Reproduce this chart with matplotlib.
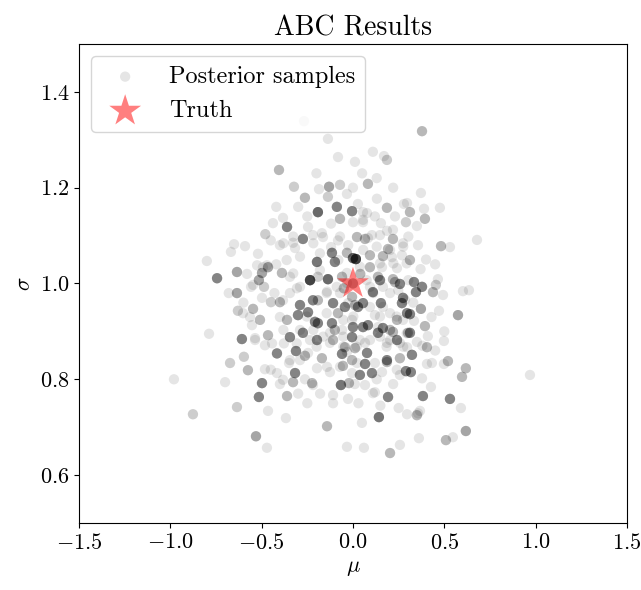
import numpy as np
import matplotlib
matplotlib.use('Agg')
import matplotlib.pyplot as plt

# 后验样本 (mu, sigma) 以及每个样本重复的次数 (ABC 结果中有重复样本)
mu = [
    -0.98, -0.876, -0.673, -0.70, -0.575, -0.498, -0.515, -0.635, -0.465, -0.531,
    -0.471, -0.597, -0.482, -0.80, -0.744, -0.651, -0.591, -0.668, -0.635, -0.68,
    -0.635, -0.63, -0.547, -0.788, -0.608, -0.52, -0.48, -0.525, -0.465, -0.498,
    -0.515, -0.558, -0.487, -0.498, -0.449, -0.564, -0.509, -0.553, -0.465, -0.536,
    -0.268, -0.137, -0.082, 0.011, 0.109, 0.186, 0.082, -0.323, -0.131, -0.071,
    -0.263, -0.186, -0.137, -0.033, -0.088, -0.192, -0.005, 0.027, 0.077, 0.131,
    0.186, 0.279, -0.071, 0.055, 0.153, 0.29, -0.383, -0.361, 0.378, 0.372,
    0.476, 0.389, 0.394, 0.312, 0.356, 0.482, 0.531, 0.679, 0.312, 0.334,
    0.378, 0.345, 0.465, 0.454, 0.438, 0.493, 0.602, 0.635, 0.372, 0.471,
    0.575, 0.312, 0.334, 0.394, 0.41, 0.312, 0.35, 0.498, 0.405, 0.969,
    0.323, 0.405, 0.432, 0.498, 0.52, 0.618, 0.597, 0.378, 0.427, 0.317,
    0.383, 0.531, 0.591, 0.367, 0.35, 0.618, 0.547, 0.509, 0.361, -0.367,
    -0.142, 0.049, 0.142, -0.033, 0.06, 0.203, 0.257, 0.296, -0.361, -0.109,
    -0.109, -0.027, 0.192, -0.066, -0.224, -0.328, -0.317, -0.383, -0.263, -0.35,
    -0.022, 0.038, 0.104, 0.066, 0.109, 0.159, 0.186, 0.29, 0.257, -0.312,
    -0.263, -0.17, -0.055, 0.022, 0.077, -0.197, -0.06, -0.405, -0.438, -0.274,
    -0.219, -0.17, -0.246, -0.328, -0.40, -0.12, -0.082, -0.033, -0.197, -0.115,
    -0.099, 0.0, -0.235, -0.137, -0.192, -0.29, -0.345, -0.389, -0.471, -0.547,
    -0.40, -0.29, -0.301, -0.361, -0.246, -0.208, -0.192, -0.115, -0.109, -0.082,
    -0.005, -0.192, -0.142, -0.602, -0.536, -0.482, -0.416, -0.443, -0.378, -0.274,
    -0.197, -0.246, -0.109, -0.044, -0.005, -0.219, -0.345, -0.416, -0.033, -0.033,
    -0.027, -0.005, -0.005, -0.06, -0.126, -0.033, -0.071, -0.005, -0.142, -0.493,
    0.17, 0.296, 0.055, 0.055, 0.0, 0.219, 0.186, 0.219, 0.022, 0.066,
    0.104, 0.274, 0.016, 0.192, 0.093, 0.164, 0.213, 0.268, 0.093, 0.159,
    0.241, 0.137, 0.219, 0.257, 0.093, 0.109, 0.164, 0.055, 0.153, 0.011,
    0.268, 0.274, 0.296, 0.203, 0.12, 0.241, 0.082, 0.0, 0.164, 0.219,
    0.301, 0.137, 0.241, 0.066, 0.186, 0.296, 0.011, 0.257, 0.186, 0.12,
    0.066, 0.12, 0.356, -0.164, 0.082, 0.148, -0.317, 0.148, 0.23, -0.307,
    -0.383, -0.219, -0.044, 0.027, 0.093, 0.164, -0.099, 0.055, 0.137, 0.203,
    0.274, -0.345, -0.235, -0.126, 0.093, 0.257, 0.0, 0.04, -0.05, -0.06,
    # 中心区域的浅色样本
    -0.381, -0.327, -0.217, -0.071, -0.026, 0.056, 0.130, 0.203, 0.275, 0.303,
    -0.363, -0.290, -0.181, -0.080, 0.038, 0.148, 0.221, 0.294, -0.327, -0.181,
    -0.089, 0.075, 0.248, 0.303, -0.345, -0.144, -0.071, 0.111, 0.203, 0.285,
    -0.253, -0.144, -0.053, 0.002, 0.148, 0.239, -0.381, -0.290, -0.217, -0.163,
    -0.053, 0.038, 0.148, 0.203, 0.294, -0.308, -0.199, -0.053, 0.020, 0.184,
    0.275, -0.29, -0.126, 0.01, 0.13, 0.22, 0.24, -0.18, -0.25, 0.03,
    0.15, 0.25, -0.40, -0.30, -0.25, -0.12, 0.12, 0.23, -0.30, 0.0,
    0.22, -0.20, 0.05, 0.13, -0.42, -0.45, 0.35, 0.40, 0.45, 0.38,
    0.43, 0.37, -0.40, -0.43, -0.42, -0.58, -0.60, -0.45, 0.33, 0.50,
    0.45,
]
sigma = [
    0.80, 0.727, 0.834, 0.794, 0.819, 0.792, 0.763, 0.742, 0.734, 0.681,
    0.657, 0.847, 0.821, 1.047, 1.011, 1.082, 1.078, 1.066, 1.024, 0.98,
    0.98, 0.943, 0.947, 0.895, 0.884, 1.062, 1.103, 1.038, 1.034, 1.022,
    1.007, 0.993, 0.993, 0.97, 0.961, 0.93, 0.924, 0.913, 0.892, 0.886,
    1.339, 1.302, 1.264, 1.254, 1.275, 1.258, 1.208, 1.202, 1.202, 1.206,
    1.179, 1.197, 1.181, 1.187, 1.16, 1.149, 1.151, 1.166, 1.147, 1.177,
    1.158, 1.166, 1.135, 1.133, 1.126, 1.128, 1.137, 1.118, 1.318, 1.189,
    1.158, 1.156, 1.135, 1.149, 1.08, 1.078, 1.076, 1.091, 1.049, 1.003,
    0.993, 0.982, 1.009, 0.997, 0.982, 0.976, 0.984, 0.986, 0.947, 0.943,
    0.934, 0.936, 0.922, 0.911, 0.89, 0.897, 0.878, 0.88, 0.867, 0.809,
    0.851, 0.832, 0.834, 0.832, 0.838, 0.823, 0.805, 0.802, 0.784, 0.815,
    0.765, 0.759, 0.74, 0.734, 0.725, 0.692, 0.679, 0.673, 0.677, 0.719,
    0.702, 0.709, 0.721, 0.659, 0.657, 0.646, 0.663, 0.727, 0.765, 0.767,
    0.75, 0.759, 0.763, 0.788, 0.792, 0.794, 0.813, 0.799, 0.80, 0.834,
    0.792, 0.809, 0.813, 0.788, 0.771, 0.815, 0.836, 0.817, 0.809, 0.859,
    0.849, 0.844, 0.828, 0.834, 0.855, 0.823, 0.853, 1.237, 1.126, 1.093,
    1.101, 1.105, 1.118, 1.085, 1.08, 1.076, 1.09, 1.064, 1.045, 1.064,
    1.045, 1.053, 1.007, 1.009, 1.014, 0.993, 1.014, 1.022, 1.038, 0.997,
    0.961, 0.955, 0.934, 0.924, 0.94, 0.92, 0.917, 0.917, 0.959, 0.938,
    0.972, 0.965, 0.983, 0.938, 0.882, 0.871, 0.854, 0.875, 0.875, 0.897,
    0.882, 0.855, 0.882, 0.867, 0.84, 0.788, 0.84, 0.813, 1.022, 1.001,
    0.959, 0.888, 0.924, 0.903, 0.897, 0.857, 0.826, 0.813, 0.826, 1.034,
    1.266, 1.168, 1.149, 1.128, 1.128, 1.112, 1.11, 1.093, 1.097, 1.093,
    1.101, 1.084, 1.051, 1.072, 1.059, 1.057, 1.055, 1.059, 1.034, 1.034,
    1.032, 1.014, 1.009, 0.999, 0.993, 0.982, 0.993, 0.959, 0.959, 0.955,
    0.959, 0.97, 0.938, 0.938, 0.934, 0.924, 0.913, 0.909, 0.907, 0.899,
    0.897, 0.897, 0.882, 0.876, 0.876, 0.867, 0.865, 0.844, 0.84, 0.834,
    0.832, 0.773, 0.729, 1.097, 1.095, 1.101, 1.074, 1.007, 1.003, 0.99,
    0.965, 0.965, 0.951, 0.951, 0.951, 0.951, 0.903, 0.909, 0.909, 0.903,
    0.924, 0.888, 0.882, 0.876, 0.882, 0.876, 1.0, 1.02, 0.99, 1.014,
    # 中心区域的浅色样本
    1.084, 1.098, 1.084, 1.098, 1.080, 1.070, 1.077, 1.070, 1.077, 1.098,
    1.049, 1.056, 1.063, 1.049, 1.035, 1.042, 1.042, 1.042, 1.021, 1.028,
    0.993, 1.007, 0.986, 1.007, 0.980, 0.980, 0.980, 0.980, 0.980, 0.966,
    0.931, 0.938, 0.924, 0.931, 0.931, 0.931, 0.903, 0.903, 0.903, 0.889,
    0.889, 0.882, 0.889, 0.882, 0.896, 0.875, 0.868, 0.868, 0.868, 0.868,
    0.868, 0.84, 0.815, 0.79, 0.80, 0.79, 0.82, 0.77, 0.75, 0.75,
    0.745, 0.74, 0.79, 0.77, 1.14, 1.125, 1.14, 1.14, 1.16, 1.20,
    1.20, 1.23, 1.23, 1.22, 1.16, 1.09, 1.12, 1.05, 1.04, 0.87,
    0.93, 1.03, 0.93, 0.98, 1.04, 1.02, 0.96, 0.82, 0.96, 0.90,
    0.86,
]
counts = [
    1, 2, 2, 1, 3, 6, 6, 2, 1, 4,
    1, 2, 1, 1, 6, 1, 1, 1, 4, 1,
    4, 2, 3, 1, 6, 1, 2, 1, 4, 4,
    4, 1, 2, 1, 2, 1, 3, 1, 3, 1,
    1, 1, 1, 1, 1, 2, 3, 2, 4, 2,
    3, 1, 2, 1, 6, 8, 6, 1, 1, 1,
    3, 1, 3, 1, 1, 2, 1, 6, 3, 1,
    1, 1, 3, 3, 1, 3, 1, 1, 3, 6,
    6, 6, 1, 2, 3, 1, 1, 1, 4, 1,
    4, 6, 1, 3, 1, 6, 1, 1, 3, 1,
    6, 1, 1, 1, 3, 3, 3, 1, 1, 6,
    6, 6, 1, 1, 3, 4, 1, 3, 1, 1,
    3, 1, 7, 1, 1, 3, 1, 1, 3, 1,
    1, 1, 6, 7, 3, 3, 6, 1, 1, 1,
    3, 6, 6, 1, 1, 1, 3, 6, 1, 6,
    3, 3, 3, 1, 6, 1, 6, 3, 1, 6,
    1, 1, 1, 1, 1, 1, 1, 3, 7, 6,
    6, 8, 12, 8, 2, 1, 1, 3, 1, 1,
    3, 6, 6, 3, 6, 6, 6, 6, 6, 3,
    3, 3, 1, 1, 1, 1, 6, 1, 1, 6,
    6, 1, 3, 3, 3, 1, 1, 1, 1, 1,
    1, 6, 1, 1, 1, 1, 1, 1, 1, 1,
    1, 1, 1, 1, 1, 1, 1, 3, 3, 3,
    1, 1, 12, 3, 3, 3, 1, 1, 3, 1,
    1, 3, 3, 6, 1, 6, 1, 6, 6, 3,
    6, 6, 6, 1, 1, 3, 6, 6, 6, 3,
    3, 6, 6, 1, 1, 1, 3, 3, 6, 1,
    6, 1, 1, 1, 1, 1, 1, 6, 3, 1,
    1, 6, 6, 6, 1, 1, 3, 6, 1, 3,
    1, 6, 1, 1, 1, 1, 4, 3, 3, 3,
    # 中心区域的浅色样本
    1, 1, 1, 1, 1, 1, 1, 1, 1, 1,
    1, 1, 1, 1, 1, 1, 1, 1, 1, 1,
    1, 1, 1, 1, 1, 1, 1, 1, 1, 1,
    1, 1, 1, 1, 1, 1, 1, 1, 1, 1,
    1, 1, 1, 1, 1, 1, 1, 1, 1, 1,
    1, 1, 1, 1, 1, 1, 1, 1, 1, 1,
    1, 1, 1, 1, 1, 1, 1, 1, 1, 1,
    1, 1, 1, 1, 1, 1, 1, 1, 1, 1,
    1, 1, 1, 1, 1, 1, 1, 1, 1, 1,
    1,
]

true_mu = 0.0
true_sigma = 1.0

# 字体设置 (Computer Modern 风格)
plt.rcParams['font.family'] = 'serif'
plt.rcParams['font.serif'] = ['cmr10']
plt.rcParams['mathtext.fontset'] = 'cm'
plt.rcParams['axes.formatter.use_mathtext'] = True
plt.rcParams['axes.unicode_minus'] = True
plt.rcParams['font.size'] = 16

mu_all = np.repeat(mu, counts)
sigma_all = np.repeat(sigma, counts)

fig = plt.figure(figsize=(6.41, 5.9), dpi=100)
ax = fig.add_axes([0.1232, 0.1136, 0.8549, 0.8118])

ax.scatter(mu_all, sigma_all, s=55, color='black', alpha=0.1,
           edgecolors='none', label='Posterior samples')
ax.scatter([true_mu], [true_sigma], s=580, marker='*', color='red',
           alpha=0.5, edgecolors='none', label='Truth')

ax.set_xlim(-1.5, 1.5)
ax.set_ylim(0.5, 1.5)
ax.set_xticks([-1.5, -1.0, -0.5, 0.0, 0.5, 1.0, 1.5])
ax.set_yticks([0.6, 0.8, 1.0, 1.2, 1.4])
ax.tick_params(labelsize=16)

ax.set_xlabel(r'$\mu$', fontsize=16)
ax.set_ylabel(r'$\sigma$', fontsize=16)
ax.set_title('ABC Results', fontsize=20)
ax.legend(loc='upper left', fontsize=17.5)

fig.savefig('out.png', dpi=100)
